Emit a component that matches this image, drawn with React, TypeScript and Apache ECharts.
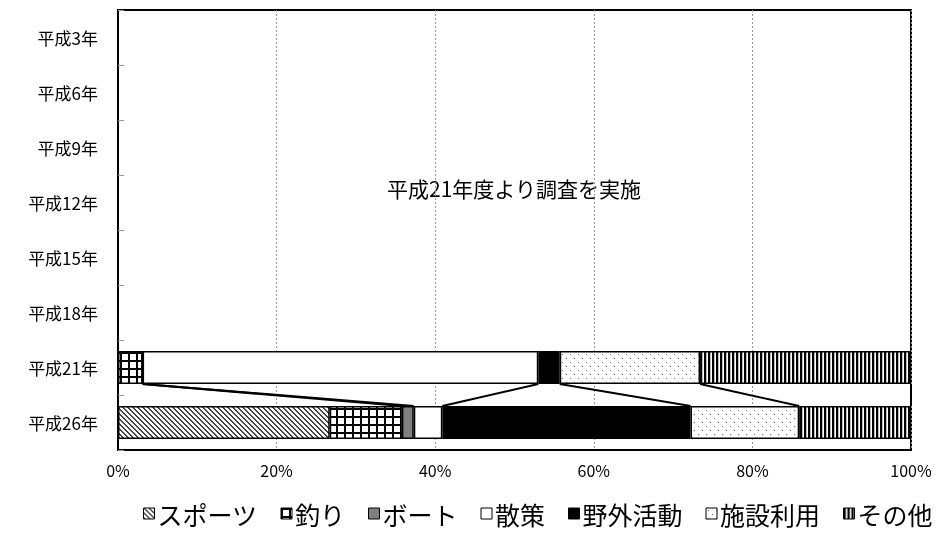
import React, { useEffect, useRef } from "react";
import * as echarts from "echarts";

const categories = ["平成3年", "平成6年", "平成9年", "平成12年", "平成15年", "平成18年", "平成21年", "平成26年"];
const seriesNames = ["スポーツ", "釣り", "ボート", "散策", "野外活動", "施設利用", "その他"];
const sports = [null, null, null, null, null, null, null, 26.7];
const fishing = [null, null, null, null, null, null, 3.1, 9.1];
const boat = [null, null, null, null, null, null, 0, 1.5];
const walk = [null, null, null, null, null, null, 49.9, 3.6];
const outdoor = [null, null, null, null, null, null, 2.7, 31.3];
const facility = [null, null, null, null, null, null, 17.7, 13.7];
const other = [null, null, null, null, null, null, 26.6, 14.1];
const annotation = "平成21年度より調査を実施";

const FONT = "'Noto Sans CJK JP', 'Noto Sans', sans-serif";

function makePattern(w: number, h: number, draw: (ctx: CanvasRenderingContext2D) => void) {
  const c = document.createElement("canvas");
  c.width = w;
  c.height = h;
  const ctx = c.getContext("2d") as CanvasRenderingContext2D;
  ctx.fillStyle = "#fff";
  ctx.fillRect(0, 0, w, h);
  draw(ctx);
  return { image: c.toDataURL(), repeat: "repeat", imageWidth: w, imageHeight: h } as any;
}

export default function App() {
  const ref = useRef<HTMLDivElement>(null);
  useEffect(() => {
    if (!ref.current) return;
    const hatch = makePattern(5, 5, (ctx) => {
      ctx.fillStyle = "#444";
      for (let i = 0; i < 5; i++) {
        ctx.fillRect(i, i, 1, 1);
        ctx.fillRect((i + 1) % 5, i, 1, 1);
      }
    });
    const grid = makePattern(8, 8, (ctx) => {
      ctx.fillStyle = "#000";
      ctx.fillRect(0, 0, 8, 2);
      ctx.fillRect(0, 0, 2, 8);
    });
    const dots = makePattern(8, 8, (ctx) => {
      ctx.fillStyle = "#666";
      ctx.fillRect(2, 2, 1, 1);
      ctx.fillRect(6, 6, 1, 1);
    });
    const stripes = makePattern(4, 4, (ctx) => {
      ctx.fillStyle = "#000";
      ctx.fillRect(0, 0, 2, 4);
      ctx.fillStyle = "#bbb";
      ctx.fillRect(2, 0, 1, 4);
    });
    const fills: any[] = [hatch, grid, "#808080", "#ffffff", "#000000", dots, stripes];
    const values = [sports, fishing, boat, walk, outdoor, facility, other];

    // series lines between 平成21年 and 平成26年
    const i21 = 6;
    const i26 = 7;
    const lineData: number[][] = [];
    let c21 = 0;
    let c26 = 0;
    values.forEach((arr) => {
      const a = arr[i21];
      const b = arr[i26];
      c21 += a == null ? 0 : a;
      c26 += b == null ? 0 : b;
      if (a != null) lineData.push([c21, c26, i21]);
    });

    const chart = echarts.init(ref.current, null, { renderer: "svg" });
    chart.setOption({
      animation: false,
      textStyle: { fontFamily: FONT },
      grid: {
        left: 118,
        right: 38,
        top: 10,
        bottom: 83,
        show: true,
        borderColor: "#000",
        borderWidth: 2,
        backgroundColor: "transparent",
      },
      xAxis: {
        type: "value",
        min: 0,
        max: 100,
        interval: 20,
        axisLabel: { formatter: "{value}%", color: "#000", fontSize: 16, margin: 12, fontFamily: FONT },
        axisLine: { show: false },
        axisTick: { show: false },
        splitLine: { show: true, lineStyle: { color: "#999", type: [2, 2], width: 1 } },
      },
      yAxis: {
        type: "category",
        data: categories,
        inverse: true,
        axisLabel: { color: "#000", fontSize: 17, margin: 20, fontFamily: FONT },
        axisLine: { show: true, lineStyle: { color: "#000", width: 2 } },
        axisTick: { show: true, inside: true, length: 6, lineStyle: { color: "#999" } },
        splitLine: { show: false },
      },
      legend: {
        data: seriesNames,
        bottom: 2,
        left: 138,
        itemWidth: 11,
        itemHeight: 11,
        itemGap: 23,
        icon: "rect",
        itemStyle: { borderColor: "#000", borderWidth: 1 },
        textStyle: { color: "#000", fontSize: 25, fontFamily: FONT, padding: [0, 0, 0, -2] },
      },
      graphic: [
        {
          type: "text",
          x: 514,
          y: 188,
          style: {
            text: annotation,
            fill: "#000",
            font: `21px ${FONT}`,
            textAlign: "center",
            textVerticalAlign: "middle",
          },
        },
      ],
      series: [
        ...seriesNames.map((name, k) => ({
          name,
          type: "bar",
          stack: "total",
          barWidth: "60%",
          data: values[k],
          itemStyle: { color: fills[k], borderColor: "#000", borderWidth: 1.5 },
          emphasis: { disabled: true },
        })),
        {
          type: "custom",
          name: "series-lines",
          coordinateSystem: "cartesian2d",
          encode: { x: 0, y: 2 },
          data: lineData,
          silent: true,
          z: 5,
          renderItem: (params: any, api: any) => {
            const p1 = api.coord([api.value(0), i21]);
            const p2 = api.coord([api.value(1), i26]);
            const half = api.size([0, 1])[1] * 0.3;
            return {
              type: "line",
              shape: { x1: p1[0], y1: p1[1] + half, x2: p2[0], y2: p2[1] - half },
              style: { stroke: "#000", lineWidth: 2 },
            };
          },
        },
      ],
    });
    return () => chart.dispose();
  }, []);
  return <div ref={ref} style={{ position: "fixed", left: 0, top: 0, width: 949, height: 533 }} />;
}
